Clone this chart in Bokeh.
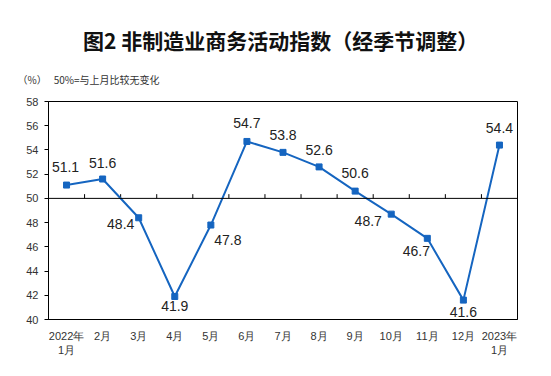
from bokeh.plotting import figure
from bokeh.models import (ColumnDataSource, Range1d, FixedTicker, Span, LabelSet, Title)
from bokeh.core.properties import value
from bokeh.embed import file_html
from bokeh.resources import INLINE

# ---- data ----
months = ["2022年\n1月", "2月", "3月", "4月", "5月", "6月", "7月", "8月",
          "9月", "10月", "11月", "12月", "2023年\n1月"]
values = [51.1, 51.6, 48.4, 41.9, 47.8, 54.7, 53.8, 52.6, 50.6, 48.7, 46.7, 41.6, 54.4]
value_labels = ["51.1", "51.6", "48.4", "41.9", "47.8", "54.7", "53.8", "52.6",
                "50.6", "48.7", "46.7", "41.6", "54.4"]
y_ticks = [40, 42, 44, 46, 48, 50, 52, 54, 56, 58]
title_text = "图2  非制造业商务活动指数（经季节调整）"
note_text = "（%）\u2002\u200950%=与上月比较无变化"

# label placement (screen px, y up)
lab_dx = [-1, 0, -18, 0, 17, 0, 0, 0, 0, -23, -11, 0, 0]
lab_dy = [18, 16, -6, -10, -15, 18, 17, 17, 18, -7, -13, -12, 17]

n = len(months)
xs = [i + 0.5 for i in range(n)]
bounds = list(range(1, n))

BLUE = "#1565C0"
LATIN = "Liberation Sans"
CJK = "Noto Sans CJK SC"

p = figure(width=535, height=360, output_backend="svg", toolbar_location=None,
           x_range=Range1d(0, n), y_range=Range1d(40, 58),
           min_border_left=48, min_border_right=18, min_border_top=0, min_border_bottom=41)
p.grid.visible = False
p.outline_line_color = "black"
p.outline_line_width = 1
p.background_fill_color = "white"
p.border_fill_color = "white"

# header: spacer (outermost), main title, note (nearest the frame)
p.title = Title(text=" ", text_font_size="11px", standoff=8)
p.add_layout(Title(text=note_text, align="left", offset=-31, standoff=27,
                   vertical_align="middle",
                   text_font=CJK, text_font_size="10px", text_font_style="normal",
                   text_color="#333333"), "above")
p.add_layout(Title(text=title_text, align="center", offset=-4, standoff=3,
                   vertical_align="middle",
                   text_font=CJK, text_font_size="21px", text_font_style="bold",
                   text_color="#111111"), "above")

# y axis
ya = p.yaxis[0]
ya.ticker = FixedTicker(ticks=y_ticks)
ya.minor_tick_line_color = None
ya.major_tick_out = 4
ya.major_tick_in = 0
ya.major_label_standoff = 6
ya.major_label_text_font = LATIN
ya.major_label_text_font_size = "11px"
ya.major_label_text_color = "#333333"
ya.axis_line_color = "black"

# x axis
xa = p.xaxis[0]
xa.ticker = FixedTicker(ticks=xs)
xa.major_label_overrides = {x: m for x, m in zip(xs, months)}
xa.major_tick_out = 0
xa.major_tick_in = 0
xa.minor_tick_line_color = None
xa.major_label_standoff = 10
xa.major_label_text_font = LATIN
xa.major_label_text_font_size = "11px"
xa.major_label_text_color = "#333333"
xa.axis_line_color = "black"

# 50 line with category boundary ticks
p.add_layout(Span(location=50, dimension="width", line_color="black", line_width=1))
p.segment(x0=bounds, x1=bounds, y0=[50] * len(bounds), y1=[50.35] * len(bounds),
          line_color="black", line_width=1)

src = ColumnDataSource(dict(x=xs, y=values, t=value_labels, dx=lab_dx, dy=lab_dy))
p.line("x", "y", source=src, line_color=BLUE, line_width=2)
p.scatter("x", "y", source=src, marker="square", size=6, fill_color=BLUE, line_color=BLUE)
p.add_layout(LabelSet(x="x", y="y", text="t", x_offset="dx", y_offset="dy", source=src,
                      text_font=value(LATIN), text_font_size=value("14px"),
                      text_color="#222222",
                      text_align="center", text_baseline="middle"))

open("out.html", "w").write(file_html(p, INLINE))
